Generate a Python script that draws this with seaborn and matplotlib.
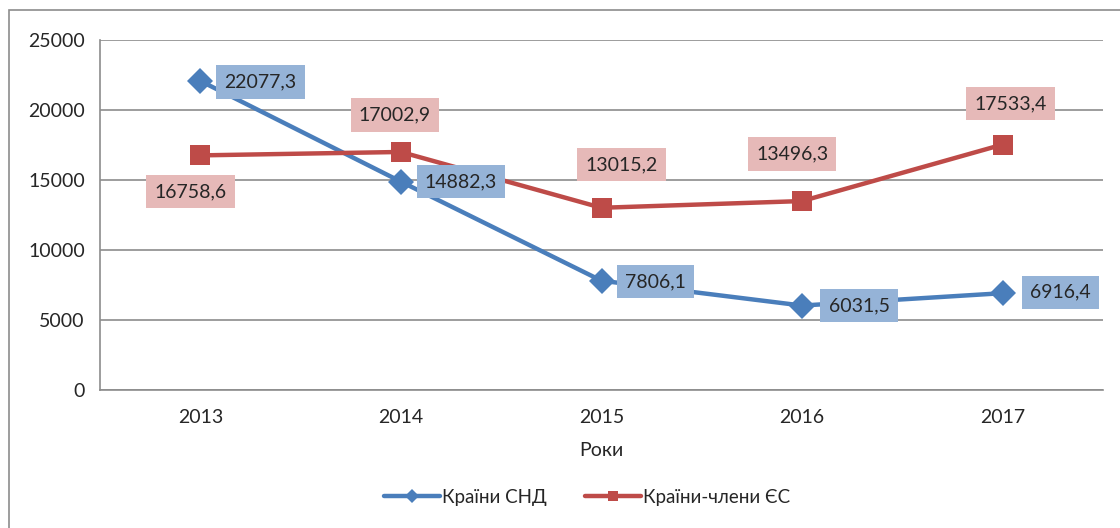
import pandas as pd
import matplotlib.pyplot as plt
import matplotlib.patches as mpatches
import seaborn as sns

# Дані
years = ['2013', '2014', '2015', '2016', '2017']
cis = [22077.3, 14882.3, 7806.1, 6031.5, 6916.4]
eu = [16758.6, 17002.9, 13015.2, 13496.3, 17533.4]
series_names = ['Країни СНД', 'Країни-члени ЄС']

# зсуви підписів (пікселі)
cis_offsets = [(60, -1), (60, 0), (54, -1), (57, 0), (58, 1)]
eu_offsets = [(-10, -36), (-6, 37), (20, 43), (-10, 47), (8, 41)]

blue = '#4a7ebb'
red = '#be4b48'
blue_box = '#95b3d7'
red_box = '#e6b9b8'

sns.set_style('white')
plt.rcParams['font.family'] = ['Lato', 'DejaVu Sans']

df = pd.DataFrame({
    'year': years * 2,
    'value': cis + eu,
    'series': [series_names[0]] * len(years) + [series_names[1]] * len(years),
})

fig = plt.figure(figsize=(11.2, 5.28), dpi=100)
ax = fig.add_axes([100 / 1120, 1 - 390 / 528, 1003 / 1120, 350 / 528])

sns.lineplot(data=df, x='year', y='value', hue='series', style='series',
             markers={series_names[0]: 'D', series_names[1]: 's'},
             dashes=False, palette=[blue, red], linewidth=3.2,
             markersize=13, markeredgewidth=0, sort=False, ax=ax, legend=False)
# квадрат трохи більший за ромб
ax.lines[1].set_markersize(14)

ax.set_xlim(-0.5, 4.5)
ax.set_ylim(0, 25000)
ax.set_yticks(range(0, 25001, 5000))
ax.yaxis.grid(True, color='#8c8c8c', linewidth=1.2)
ax.set_axisbelow(True)
for s in ['top', 'right']:
    ax.spines[s].set_visible(False)
for s in ['left', 'bottom']:
    ax.spines[s].set_color('#8c8c8c')
    ax.spines[s].set_linewidth(1.2)

ax.set_xticks(range(len(years)))
ax.set_xticklabels(years)
ax.set_xticks([i - 0.5 for i in range(len(years) + 1)], minor=True)
ax.tick_params(axis='x', which='major', length=0, pad=14, labelsize=14)
ax.tick_params(axis='x', which='minor', length=5, color='#8c8c8c', width=1.2)
ax.tick_params(axis='y', length=5, color='#8c8c8c', width=1.2, pad=6, labelsize=14)
ax.set_xlabel('Роки', fontsize=14, labelpad=11)
ax.set_ylabel('')

def fmt(v):
    return f'{v:.1f}'.replace('.', ',')

for i, v in enumerate(cis):
    ax.annotate(fmt(v), (i, v), xytext=cis_offsets[i], textcoords='offset pixels',
                ha='center', va='center', fontsize=14,
                bbox=dict(boxstyle='square,pad=0.42', fc=blue_box, ec='none'))
for i, v in enumerate(eu):
    ax.annotate(fmt(v), (i, v), xytext=eu_offsets[i], textcoords='offset pixels',
                ha='center', va='center', fontsize=14,
                bbox=dict(boxstyle='square,pad=0.42', fc=red_box, ec='none'))

handles = [
    plt.Line2D([], [], color=blue, lw=3.2, marker='D', markersize=7, markeredgewidth=0),
    plt.Line2D([], [], color=red, lw=3.2, marker='s', markersize=7, markeredgewidth=0),
]
fig.legend(handles, series_names, loc='center', bbox_to_anchor=(587 / 1120, 1 - 497 / 528),
           ncol=2, frameon=False, fontsize=13.5, handlelength=3.0, handletextpad=0.1,
           columnspacing=2.0)

# рамка діаграми
fig.patches.append(mpatches.Rectangle((9 / 1120, -0.05), 1.2, 1 - 10 / 528 + 0.05,
                                      transform=fig.transFigure, fill=False,
                                      ec='#8c8c8c', lw=1.2))

fig.savefig('out.png', dpi=100)
